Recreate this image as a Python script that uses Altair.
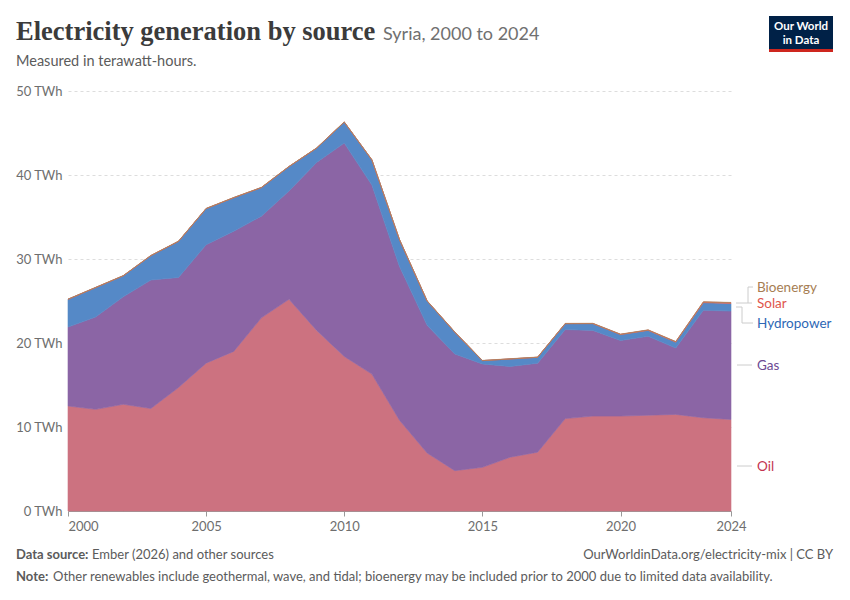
import altair as alt
import pandas as pd

# ---------------- data (TWh) ----------------
years = list(range(2000, 2025))
oil = [12.5, 12.1, 12.7, 12.2, 14.7, 17.6, 19.0, 23.0, 25.2, 21.5, 18.4, 16.3, 10.8,
       6.9, 4.8, 5.2, 6.4, 7.0, 11.0, 11.3, 11.3, 11.4, 11.5, 11.1, 10.9]
gas = [9.4, 11.0, 12.8, 15.3, 13.1, 14.1, 14.3, 12.1, 12.9, 20.0, 25.4, 22.5, 18.3,
       15.2, 13.9, 12.3, 10.8, 10.6, 10.6, 10.2, 9.0, 9.4, 7.9, 12.8, 12.9]
hydro = [3.3, 3.5, 2.5, 2.9, 4.3, 4.3, 4.0, 3.4, 2.9, 1.7, 2.5, 3.0, 3.2,
         2.9, 2.6, 0.4, 0.9, 0.7, 0.7, 0.8, 0.7, 0.7, 0.7, 0.9, 0.9]
solar = [0, 0, 0, 0, 0, 0, 0, 0, 0, 0, 0, 0, 0,
         0, 0, 0, 0, 0, 0.01, 0.02, 0.03, 0.04, 0.05, 0.08, 0.1]
bioenergy = [0.03] * 25

sources = ["Oil", "Gas", "Hydropower", "Solar", "Bioenergy"]
series = [oil, gas, hydro, solar, bioenergy]
area_colors = ["#cc7280", "#8b65a5", "#5589c7", "#e0645a", "#b0805a"]
label_colors = ["#c4344f", "#6d4a93", "#2d67b5", "#e0564b", "#a67d52"]
x_ticks = [2000, 2005, 2010, 2015, 2020, 2024]
y_ticks = [0, 10, 20, 30, 40, 50]

rows = []
for i, yr in enumerate(years):
    for k, (s, vals) in enumerate(zip(sources, series)):
        rows.append({"year": yr, "source": s, "value": vals[i], "ord": k})
df = pd.DataFrame(rows)

GREY = "#6e6e6e"
FONT = "Lato"

area = alt.Chart(df).mark_area(interpolate="linear", strokeWidth=0.6, opacity=1).encode(
    x=alt.X("year:Q",
            scale=alt.Scale(domain=[2000, 2024], nice=False, zero=False),
            axis=alt.Axis(values=x_ticks, format="d", title=None, grid=False,
                          domain=True, domainColor="#999999", ticks=True, tickColor="#999999",
                          tickSize=5, labelPadding=4, labelColor=GREY, labelFont=FONT,
                          labelFontSize=13,
                          labelAlign=alt.expr("datum.value == 2000 ? 'left' : 'center'"))),
    y=alt.Y("value:Q", stack="zero",
            scale=alt.Scale(domain=[0, 50], nice=False),
            axis=alt.Axis(values=y_ticks, title=None, domain=False, ticks=False,
                          labelPadding=6, labelColor=GREY, labelFont=FONT, labelFontSize=13,
                          labelExpr="datum.value + ' TWh'",
                          gridColor="#dddddd", gridDash=[3, 3])),
    color=alt.Color("source:N", scale=alt.Scale(domain=sources, range=area_colors), legend=None),
    stroke=alt.Stroke("source:N", scale=alt.Scale(domain=sources, range=area_colors), legend=None),
    order=alt.Order("ord:Q", sort="ascending"),
)

one = pd.DataFrame({"a": [0]})


def txt(text, x, y, size=13, color=GREY, weight="normal", align="left", font=FONT,
        baseline="alphabetic"):
    return alt.Chart(one).mark_text(
        text=text, align=align, baseline=baseline, fontSize=size, color=color,
        fontWeight=weight, font=font
    ).encode(x=alt.value(x), y=alt.value(y))


def rule(x1, x2, y1, y2, color="#cccccc"):
    return alt.Chart(one).mark_rule(color=color, strokeWidth=1).encode(
        x=alt.value(x1), x2=alt.value(x2), y=alt.value(y1), y2=alt.value(y2))


def rect(x1, x2, y1, y2, color):
    return alt.Chart(one).mark_rect(color=color).encode(
        x=alt.value(x1), x2=alt.value(x2), y=alt.value(y1), y2=alt.value(y2))


layers = [area]

# header
layers.append(txt("Electricity generation by source", -52, -51, size=26.5, color="#3b3b3b",
                  weight="bold", font="Liberation Serif"))
layers.append(txt("Syria, 2000 to 2024", 315, -51, size=18, color="#707070"))
layers.append(txt("Measured in terawatt-hours.", -52, -25, size=14.5, color="#5b5b5b"))

# logo
layers.append(rect(701, 765, -75, -39, "#002147"))
layers.append(rect(701, 765, -42, -39, "#ce261e"))
layers.append(txt("Our World", 733, -61, size=11.5, color="white", weight="bold",
                  align="center"))
layers.append(txt("in Data", 733, -47, size=11.5, color="white", weight="bold",
                  align="center"))

# series labels with connectors
label_y = {"Bioenergy": 197, "Solar": 213, "Hydropower": 233, "Gas": 275, "Oil": 376}
for s, c in zip(sources, label_colors):
    layers.append(txt(s, 689, label_y[s], size=13.5, color=c, baseline="middle"))
layers.append(rule(669, 684, 274, 274))
layers.append(rule(669, 684, 375, 375))
layers.append(rule(668, 684, 212, 212))
layers.append(rule(680, 680, 196, 212))
layers.append(rule(680, 685, 196, 196))
layers.append(rule(668, 674, 216, 216))
layers.append(rule(674, 674, 216, 232))
layers.append(rule(674, 685, 232, 232))

# footer
layers.append(txt("Data source:", -52, 468, size=13, color="#5b5b5b", weight="bold"))
layers.append(txt("Ember (2026) and other sources", 24, 468, size=13, color="#5b5b5b"))
layers.append(txt("OurWorldinData.org/electricity-mix | CC BY", 765, 468, size=13,
                  color="#5b5b5b", align="right"))
layers.append(txt("Note:", -52, 490, size=13, color="#5b5b5b", weight="bold"))
layers.append(txt("Other renewables include geothermal, wave, and tidal; bioenergy may be "
                  "included prior to 2000 due to limited data availability.",
                  -15, 490, size=13, color="#5b5b5b"))

chart = alt.layer(*layers).properties(
    width=663, height=420,
    padding={"left": 60, "top": 83, "right": 111, "bottom": 81},
    autosize=alt.AutoSizeParams(type="none"),
    background="white",
).configure_view(strokeWidth=0)

chart.save("out.html", embed_options={"renderer": "svg", "actions": False})
